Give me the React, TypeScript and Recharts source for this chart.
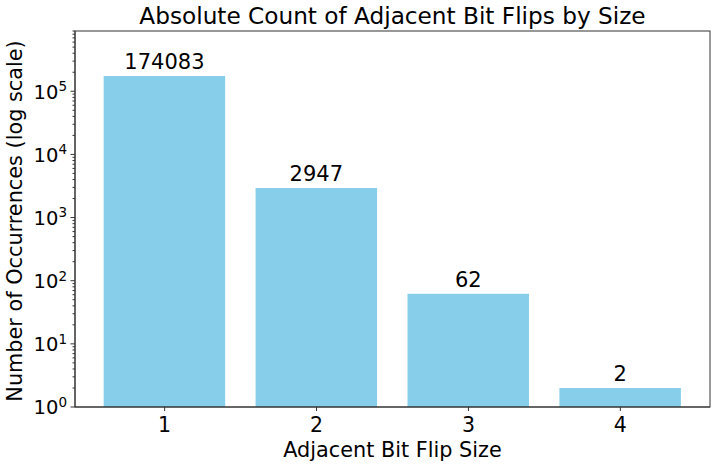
import { Bar, BarChart, LabelList, XAxis, YAxis } from 'recharts';

const flipSizes = [1, 2, 3, 4];
const occurrences = [174083, 2947, 62, 2];
const majorTicks = [1, 10, 100, 1000, 10000, 100000];
const minorSteps = [2, 3, 4, 5, 6, 7, 8, 9];

const W = 718;
const H = 468;
const LEFT = 75;
const RIGHT = 710;
const TOP = 31;
const BOTTOM = 407;
const FONT = "'DejaVu Sans', sans-serif";
const AXIS = '#333';

const data = flipSizes.map((size, i) => ({ size, count: occurrences[i] }));

const yTicks = majorTicks.flatMap((m) => [m, ...minorSteps.map((s) => m * s)]);

function LogTick(props: any) {
  const { x, y, payload } = props;
  const v = payload.value;
  const exp = Math.round(Math.log10(v));
  const major = Math.abs(Math.pow(10, exp) - v) < 1e-6;
  return (
    <g>
      <line x1={x} x2={x - (major ? 4.5 : 2.5)} y1={y} y2={y} stroke={AXIS} strokeWidth={1} />
      {major && (
        <text x={x - 8} y={y} textAnchor="end" fontFamily={FONT} fill="#000">
          <tspan fontSize={19.5} dy={7.3}>10</tspan>
          <tspan fontSize={13.5} dy={-7.5}>{exp}</tspan>
        </text>
      )}
    </g>
  );
}

function XTick(props: any) {
  const { x, payload } = props;
  return (
    <text x={x} y={BOTTOM + 25} textAnchor="middle" fontFamily={FONT} fontSize={20.5} fill="#000">
      {payload.value}
    </text>
  );
}

function BarValue(props: any) {
  const { x, y, width, value } = props;
  return (
    <text x={x + width / 2} y={y - 7} textAnchor="middle" fontFamily={FONT} fontSize={21} fill="#000">
      {value}
    </text>
  );
}

export default function App() {
  return (
    <div style={{ position: 'absolute', left: 0, top: 0, width: W, height: H, background: '#fff' }}>
      <BarChart
        width={W}
        height={H}
        data={data}
        margin={{ top: TOP, right: W - RIGHT, bottom: 0, left: 0 }}
      >
        <XAxis
          dataKey="size"
          type="number"
          domain={[0.41, 4.59]}
          ticks={flipSizes}
          allowDataOverflow
          height={H - BOTTOM}
          stroke={AXIS}
          tickSize={4}
          tick={<XTick />}
        />
        <YAxis
          type="number"
          scale="log"
          domain={[1, 900000]}
          allowDataOverflow
          ticks={yTicks}
          interval={0}
          width={LEFT}
          stroke={AXIS}
          tickSize={0}
          tickMargin={0}
          tickLine={false}
          tick={<LogTick />}
        />
        <Bar dataKey="count" fill="#87CEEB" barSize={121.5} isAnimationActive={false}>
          <LabelList dataKey="count" content={<BarValue />} />
        </Bar>
      </BarChart>
      <svg
        width={W}
        height={H}
        style={{ position: 'absolute', left: 0, top: 0, pointerEvents: 'none' }}
      >
        <rect x={LEFT} y={TOP} width={RIGHT - LEFT} height={BOTTOM - TOP} fill="none" stroke={AXIS} strokeWidth={1} />
        <text x={(LEFT + RIGHT) / 2} y={24} textAnchor="middle" fontFamily={FONT} fontSize={23.2} fill="#000">
          Absolute Count of Adjacent Bit Flips by Size
        </text>
        <text x={(LEFT + RIGHT) / 2} y={457} textAnchor="middle" fontFamily={FONT} fontSize={20.8} fill="#000">
          Adjacent Bit Flip Size
        </text>
        <text
          x={22}
          y={(TOP + BOTTOM) / 2 + 2}
          textAnchor="middle"
          fontFamily={FONT}
          fontSize={20.8}
          fill="#000"
          transform={`rotate(-90 22 ${(TOP + BOTTOM) / 2 + 2})`}
        >
          Number of Occurrences (log scale)
        </text>
      </svg>
    </div>
  );
}
